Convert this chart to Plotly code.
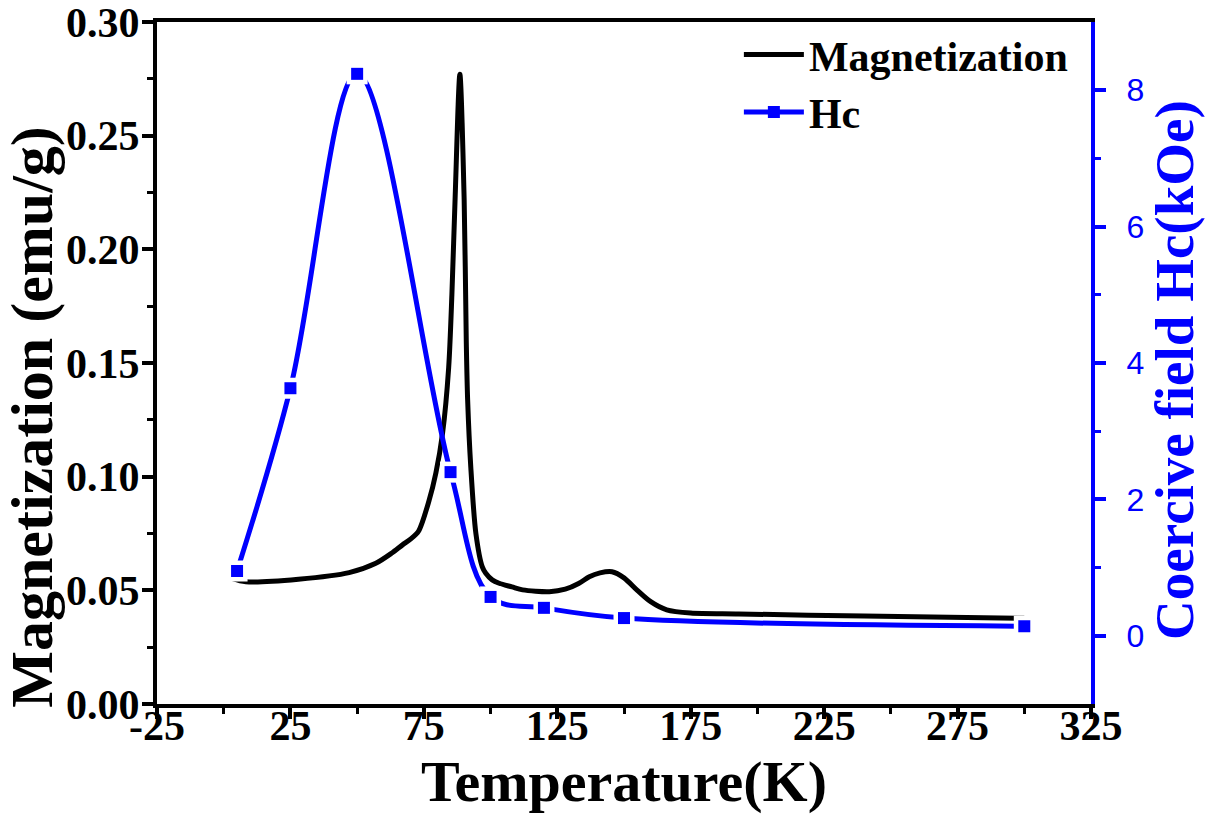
import plotly.graph_objects as go

# Magnetization vs temperature
temp_m = [3, 8.3, 28, 47, 57, 63, 67, 70, 73, 77, 79.5, 82, 84.3, 85.5, 86.7, 88.5,
          90.1, 90.9, 91.4, 92.6, 94.5, 96.9, 98.2, 100.6, 103.2, 108, 112, 122, 128,
          133, 137, 141, 145.5, 150, 155, 160, 166, 175, 193, 240, 300]
magnetization = [0.0553, 0.0538, 0.0549, 0.0578, 0.0619, 0.0664, 0.0700, 0.0725, 0.0760,
                 0.0897, 0.1016, 0.119, 0.148, 0.180, 0.222, 0.277, 0.222, 0.159, 0.134,
                 0.104, 0.075, 0.0603, 0.0575, 0.0546, 0.0531, 0.0515, 0.0502, 0.0494,
                 0.0505, 0.0530, 0.0560, 0.0577, 0.0582, 0.0555, 0.0500, 0.0450, 0.0414,
                 0.0400, 0.0396, 0.0387, 0.0377]

# Coercive field vs temperature
temp_hc = [5, 25, 50, 85, 100, 120, 150, 300]
hc = [0.95, 3.63, 8.24, 2.40, 0.57, 0.41, 0.26, 0.14]

x_ticks = [-25, 25, 75, 125, 175, 225, 275, 325]

serif = "Liberation Serif"
sans = "Liberation Sans"
BLUE = "#0000ff"

fig = go.Figure()
# Hc line with markers (legend entry)
fig.add_trace(go.Scatter(
    x=temp_hc, y=hc, name="Hc", mode="lines+markers", legendrank=2,
    line=dict(color=BLUE, width=5, shape="spline", smoothing=1.0),
    marker=dict(symbol="square", size=12, color=BLUE),
    yaxis="y2"))
# white halos around Hc markers (gap in the line like the original)
fig.add_trace(go.Scatter(
    x=temp_hc, y=hc, mode="markers", showlegend=False, hoverinfo="skip",
    marker=dict(symbol="square", size=21, color="white"),
    yaxis="y2"))
fig.add_trace(go.Scatter(
    x=temp_hc, y=hc, mode="markers", showlegend=False, hoverinfo="skip",
    marker=dict(symbol="square", size=12, color=BLUE),
    yaxis="y2"))
fig.add_trace(go.Scatter(
    x=temp_m, y=magnetization, name="Magnetization", mode="lines", legendrank=1,
    line=dict(color="black", width=5, shape="spline", smoothing=0.8),
    yaxis="y"))

fig.update_layout(
    width=1223, height=830,
    margin=dict(l=157, r=132, t=22, b=126, autoexpand=False),
    paper_bgcolor="white", plot_bgcolor="white",
    showlegend=True,
    legend=dict(x=0.623, y=1.002, xanchor="left", yanchor="top",
                bgcolor="rgba(0,0,0,0)", itemwidth=60,
                font=dict(family=serif, size=42, color="black", weight="bold")),
    xaxis=dict(
        range=[-25, 325], tickmode="array", tickvals=x_ticks,
        ticktext=[str(v) for v in x_ticks], automargin=False,
        showgrid=False, zeroline=False,
        showline=True, linecolor="black", linewidth=4, mirror=True,
        ticks="outside", ticklen=11, tickwidth=4, tickcolor="black",
        minor=dict(ticks="outside", ticklen=6, tickwidth=3, tickcolor="black",
                   dtick=25, tick0=0),
        tickfont=dict(family=serif, size=42, color="black", weight="bold"),
        ticklabelstandoff=-29, ticklabeloverflow="allow",
        title=dict(text="Temperature(K)", standoff=2,
                   font=dict(family=serif, size=58, color="black", weight="bold")),
    ),
    yaxis=dict(
        range=[0, 0.30], dtick=0.05, tick0=0, tickformat=".2f", automargin=False,
        showgrid=False, zeroline=False,
        showline=True, linecolor="black", linewidth=4,
        ticks="outside", ticklen=11, tickwidth=4, tickcolor="black",
        minor=dict(ticks="outside", ticklen=6, tickwidth=3, tickcolor="black",
                   dtick=0.025),
        tickfont=dict(family=serif, size=42, color="black", weight="bold"),
        ticklabelstandoff=-6, ticklabeloverflow="allow",
    ),
    yaxis2=dict(
        range=[-1, 9], overlaying="y", side="right", automargin=False,
        tickvals=[0, 2, 4, 6, 8],
        showgrid=False, zeroline=False,
        showline=True, linecolor=BLUE, linewidth=4,
        ticks="outside", ticklen=11, tickwidth=4, tickcolor=BLUE,
        minor=dict(ticks="outside", ticklen=6, tickwidth=3, tickcolor=BLUE,
                   tickvals=[1, 3, 5, 7]),
        tickfont=dict(family=sans, size=32, color=BLUE),
        ticklabelstandoff=14, ticklabeloverflow="allow",
    ),
    annotations=[
        dict(text="Magnetization (emu/g)", xref="paper", yref="paper",
             x=-0.134, y=0.421, xanchor="center", yanchor="middle",
             textangle=-90, showarrow=False,
             font=dict(family=serif, size=60, color="black", weight="bold")),
        dict(text="Coercive field Hc(kOe)", xref="paper", yref="paper",
             x=1.09, y=0.49, xanchor="center", yanchor="middle",
             textangle=-90, showarrow=False,
             font=dict(family=serif, size=55, color=BLUE, weight="bold")),
    ],
)

fig.write_html("out.html", config={"displayModeBar": False},
               post_script="document.body.style.margin='0px';")
